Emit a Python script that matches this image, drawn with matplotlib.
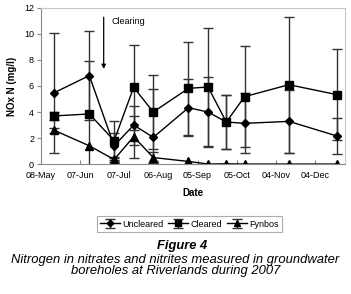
import matplotlib
matplotlib.use('Agg')
import matplotlib.pyplot as plt
import matplotlib.dates as mdates
import numpy as np
import pandas as pd

plt.rcParams['font.family'] = ['Liberation Sans', 'DejaVu Sans']

# sampling dates (2007)
dates = pd.to_datetime(['2007-05-18', '2007-06-14', '2007-07-03', '2007-07-18',
                        '2007-08-02', '2007-08-29', '2007-09-13', '2007-09-27',
                        '2007-10-11', '2007-11-14', '2007-12-21'])

uncleared = [5.48, 6.8, 1.4, 3.0, 2.05, 4.33, 4.0, 3.23, 3.13, 3.28, 2.15]
unc_lo = [4.6, 3.45, 0.95, 1.5, 2.0, 2.2, 2.7, 2.1, 2.3, 2.45, 1.4]
unc_hi = [4.6, 3.45, 0.95, 1.5, 3.7, 2.2, 2.7, 2.05, 2.3, 2.45, 1.4]

cleared = [3.7, 3.85, 1.8, 5.9, 4.0, 5.82, 5.92, 3.23, 5.18, 6.1, 5.33]
clr_lo = [0.3, 4.1, 1.5, 3.25, 2.85, 3.55, 4.5, 2.1, 3.9, 5.23, 3.5]
clr_hi = [0.3, 4.1, 1.5, 3.25, 2.85, 3.55, 4.5, 2.1, 3.9, 5.23, 3.5]

fynbos = [2.6, 1.4, 0.35, 2.1, 0.5, 0.2, 0.0, 0.02, 0.0, 0.0, 0.0]
fyn_err = [0.2, 0.0, 0.2, 1.6, 0.4, 0.0, 0.0, 0.0, 0.0, 0.0, 0.0]

tick_dates = pd.date_range('2007-05-08', periods=8, freq='30D')

fig = plt.figure(figsize=(3.51, 2.94), dpi=100)
ax = fig.add_axes([0.117, 0.442, 0.866, 0.531])

ebkw = dict(ecolor='#333333', elinewidth=1, capsize=3.6, capthick=1)
ax.errorbar(dates, uncleared, yerr=[unc_lo, unc_hi], color='black', lw=1,
            marker='D', ms=4.5, label='Uncleared', **ebkw)
ax.errorbar(dates, cleared, yerr=[clr_lo, clr_hi], color='black', lw=1,
            marker='s', ms=5.5, label='Cleared', **ebkw)
# no bar where the error is zero
fyn_yerr = np.where(np.array(fyn_err) > 0, fyn_err, np.nan)
ax.errorbar(dates, fynbos, yerr=fyn_yerr, color='black', lw=1,
            marker='^', ms=5.5, label='Fynbos', **ebkw)

ax.set_xlim(pd.Timestamp('2007-05-08'), pd.Timestamp('2007-12-27'))
ax.set_ylim(0, 12)
ax.set_yticks(range(0, 13, 2))
ax.set_xticks(tick_dates)
ax.xaxis.set_major_formatter(mdates.DateFormatter('%d-%b'))
ax.tick_params(axis='x', direction='in', length=3, labelsize=6.5, pad=5, color='#888888')
ax.tick_params(axis='y', direction='out', length=3, labelsize=6.5, pad=2, color='#888888')
for s in ['left', 'bottom']:
    ax.spines[s].set_color('#888888')
for s in ['top', 'right']:
    ax.spines[s].set_color('#c8c8c8')
    ax.spines[s].set_linewidth(0.8)

ax.set_xlabel('Date', fontsize=7, fontweight='bold', labelpad=6)
ax.set_ylabel('NOx N (mg/l)', fontsize=7, fontweight='bold', labelpad=5)

# clearing event
ax.annotate('', xy=(pd.Timestamp('2007-06-25'), 7.1), xytext=(pd.Timestamp('2007-06-25'), 11.5),
            arrowprops=dict(arrowstyle='-|>', color='black', lw=0.9, mutation_scale=6))
ax.text(pd.Timestamp('2007-07-01'), 10.8, 'Clearing', fontsize=6.5)

leg = fig.legend(loc='center', bbox_to_anchor=(0.54, 0.238), ncol=3, fontsize=6.5,
                 frameon=True, fancybox=False, handlelength=2.2, handletextpad=0.3,
                 columnspacing=0.5, borderpad=0.35, markerscale=0.75)
leg.get_frame().set_edgecolor('#999999')
leg.get_frame().set_linewidth(0.8)

fig.text(0.52, 0.163, 'Figure 4', ha='center', va='center', fontsize=9.3,
         fontweight='bold', style='italic')
fig.text(0.5, 0.117, 'Nitrogen in nitrates and nitrites measured in groundwater',
         ha='center', va='center', fontsize=9.4, style='italic')
fig.text(0.5, 0.078, 'boreholes at Riverlands during 2007',
         ha='center', va='center', fontsize=9.4, style='italic')

fig.savefig('out.png', dpi=100)
